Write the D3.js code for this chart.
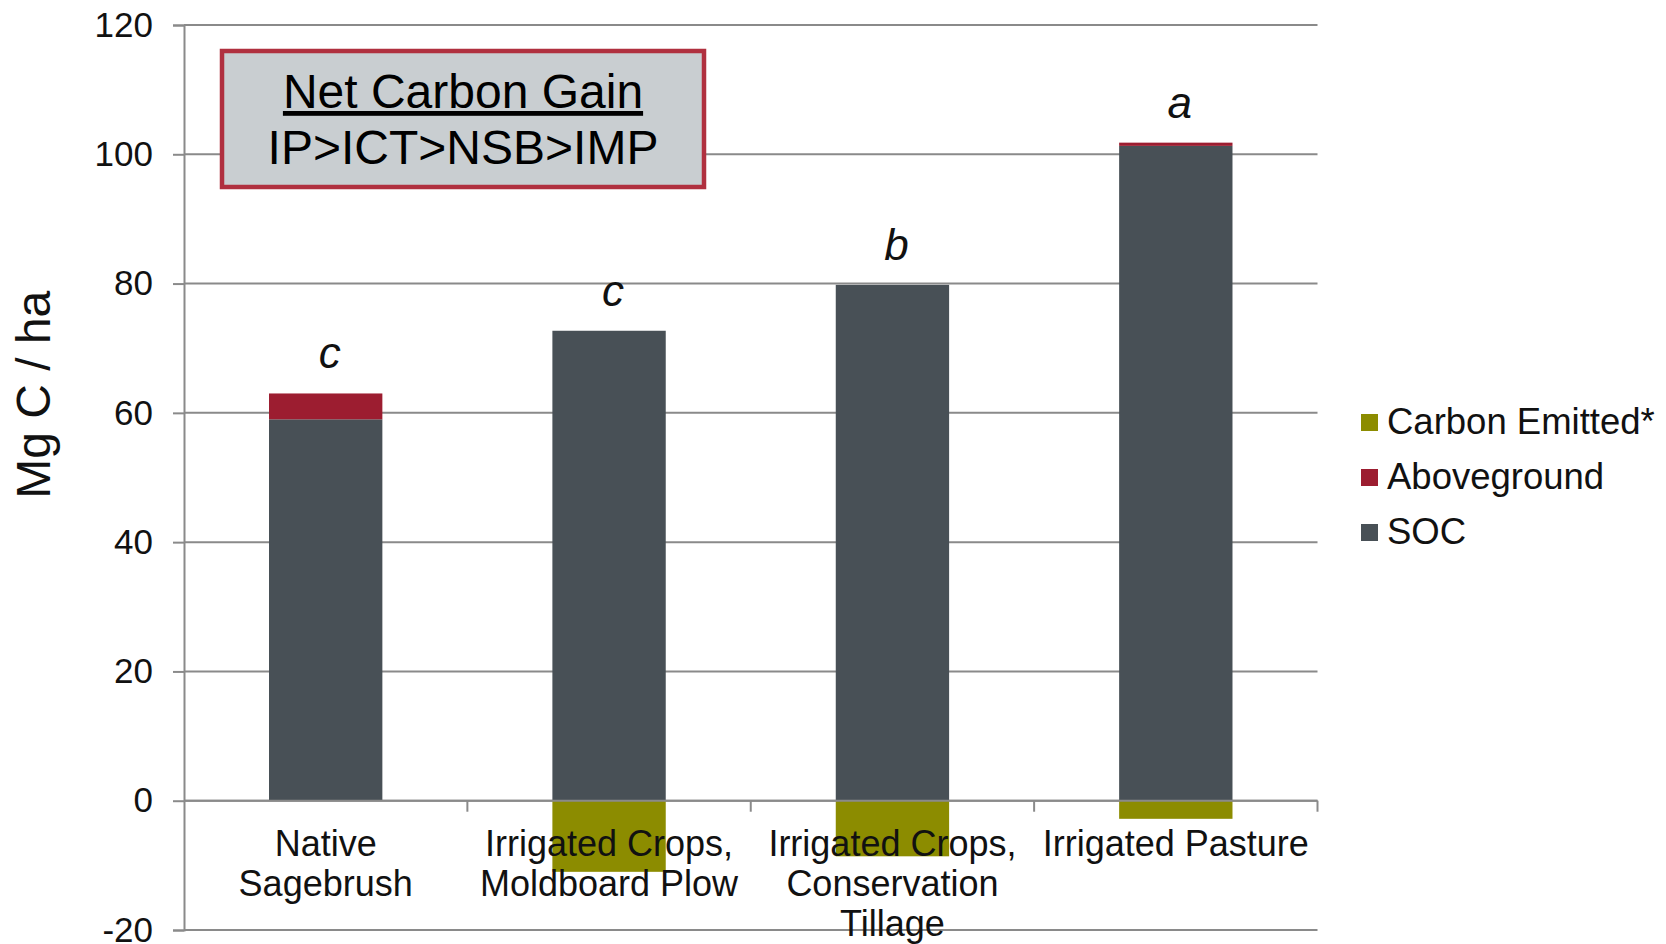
<!DOCTYPE html>
<html>
<head>
<meta charset="utf-8">
<script src="https://cdn.jsdelivr.net/npm/d3@7"></script>
<style>
  html, body { margin: 0; padding: 0; background: #fff; }
  svg { display: block; font-family: "Liberation Sans", Arial, sans-serif; }
</style>
</head>
<body>
<svg id="chart" width="1666" height="944"></svg>
<script>
// ---- data ----
const categories = [
  ["Native", "Sagebrush"],
  ["Irrigated Crops,", "Moldboard Plow"],
  ["Irrigated Crops,", "Conservation", "Tillage"],
  ["Irrigated Pasture"]
];
const categoryKeys = ["NSB", "IMP", "ICT", "IP"];
const socValues = [59.0, 72.7, 79.8, 101.3];
const abovegroundValues = [4.0, 0.0, 0.0, 0.5];
const emittedValues = [0.0, 11.0, 8.6, 2.8];
const significanceLetters = ["c", "c", "b", "a"];
const yTicks = [-20, 0, 20, 40, 60, 80, 100, 120];
const seriesNames = ["SOC", "Aboveground", "Carbon Emitted*"];
const legendOrder = ["Carbon Emitted*", "Aboveground", "SOC"];
const colors = { "SOC": "#485056", "Aboveground": "#9c1d30", "Carbon Emitted*": "#8c8c00" };

(function () {
// table for stacking
const table = categoryKeys.map((k, i) => ({
  key: k,
  "SOC": socValues[i],
  "Aboveground": abovegroundValues[i],
  "Carbon Emitted*": -emittedValues[i]
}));

const svg = d3.select("#chart");
const pL = 184, pR = 1317.5, pT = 25, pB = 930;

const x = d3.scaleBand().domain(categoryKeys).range([pL, pR])
  .paddingInner(0.6).paddingOuter(0.3);
const xb = d3.scaleBand().domain(categoryKeys).range([pL, pR]).padding(0);
const y = d3.scaleLinear().domain([-20, 120]).range([pB, pT]);

const gridColor = "#8a8a8a";

// gridlines
svg.append("g").selectAll("line").data(yTicks).join("line")
  .attr("x1", pL).attr("x2", pR)
  .attr("y1", d => y(d)).attr("y2", d => y(d))
  .attr("stroke", gridColor).attr("stroke-width", 2);

// y axis
const yAxis = svg.append("g").attr("transform", `translate(${pL},0)`)
  .call(d3.axisLeft(y).tickValues(yTicks).tickSize(11).tickPadding(20).tickFormat(d => String(d)));
yAxis.select(".domain").attr("stroke", gridColor).attr("stroke-width", 2);
yAxis.selectAll(".tick line").attr("stroke", gridColor).attr("stroke-width", 2);
yAxis.selectAll(".tick text").attr("font-size", 35).attr("fill", "#111")
  .attr("font-family", "Liberation Sans, Arial, sans-serif");

// stacked bars
const stack = d3.stack().keys(seriesNames).offset(d3.stackOffsetDiverging);
const stacked = stack(table);
svg.append("g").selectAll("g").data(stacked).join("g")
  .attr("fill", d => colors[d.key])
  .selectAll("rect").data(d => d).join("rect")
  .attr("x", d => x(d.data.key))
  .attr("width", x.bandwidth())
  .attr("y", d => y(Math.max(d[0], d[1])))
  .attr("height", d => Math.abs(y(d[0]) - y(d[1])));

// x axis at zero
const xAxisG = svg.append("g").attr("transform", `translate(0,${y(0)})`);
xAxisG.append("line").attr("x1", pL).attr("x2", pR)
  .attr("stroke", gridColor).attr("stroke-width", 2);
xAxisG.selectAll("line.tk").data(categoryKeys).join("line").attr("class", "tk")
  .attr("x1", d => xb(d) + xb.bandwidth()).attr("x2", d => xb(d) + xb.bandwidth())
  .attr("y1", 0).attr("y2", 11)
  .attr("stroke", gridColor).attr("stroke-width", 2);

// category labels
const catG = svg.append("g");
categories.forEach((lines, i) => {
  const cx = xb(categoryKeys[i]) + xb.bandwidth() / 2;
  const t = catG.append("text").attr("text-anchor", "middle")
    .attr("font-size", 36).attr("fill", "#111")
    .attr("x", cx).attr("y", y(0) + 55);
  lines.forEach((ln, j) => {
    t.append("tspan").attr("x", cx).attr("dy", j === 0 ? 0 : 40).text(ln);
  });
});

// significance letters
svg.append("g").selectAll("text").data(table).join("text")
  .attr("x", d => x(d.key) + x.bandwidth() / 2 + 4)
  .attr("y", d => y(d["SOC"] + d["Aboveground"]) - 25)
  .attr("text-anchor", "middle")
  .attr("font-size", 44).attr("font-style", "italic").attr("fill", "#111")
  .text((d, i) => significanceLetters[i]);

// y title
svg.append("text")
  .attr("transform", `translate(50,${y(62.8)}) rotate(-90)`)
  .attr("text-anchor", "middle")
  .attr("font-size", 48).attr("fill", "#111")
  .text("Mg C / ha");

// annotation box
const box = svg.append("g");
box.append("rect").attr("x", 222).attr("y", 51).attr("width", 482).attr("height", 136)
  .attr("fill", "#c9ced1").attr("stroke", "#b0303f").attr("stroke-width", 4.5);
box.append("text").attr("x", 463).attr("y", 108).attr("text-anchor", "middle")
  .attr("font-size", 48).attr("fill", "#000").attr("text-decoration", "underline")
  .text("Net Carbon Gain");
box.append("text").attr("x", 463).attr("y", 164).attr("text-anchor", "middle")
  .attr("font-size", 48).attr("fill", "#000")
  .text("IP>ICT>NSB>IMP");

// legend
const legend = svg.append("g").attr("transform", "translate(1361,0)");
legendOrder.forEach((name, i) => {
  const cy = 422 + i * 55;
  legend.append("rect").attr("x", 0).attr("y", cy - 8).attr("width", 17).attr("height", 17)
    .attr("fill", colors[name]);
  legend.append("text").attr("x", 26).attr("y", cy + 12)
    .attr("font-size", 36.5).attr("fill", "#111").text(name);
});
})();
</script>
</body>
</html>
